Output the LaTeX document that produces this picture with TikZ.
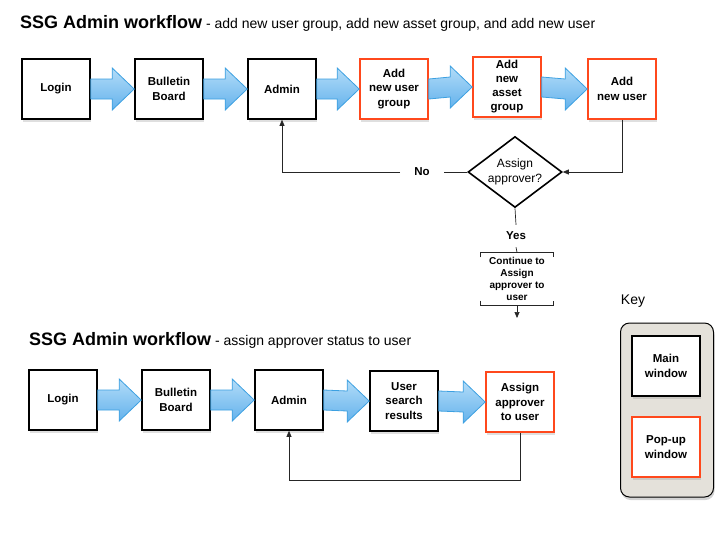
\documentclass[tikz,border=0pt]{standalone}
\usepackage{fontspec}
\setmainfont{Liberation Sans}
\definecolor{popred}{RGB}{255,72,28}
\definecolor{arrowblue}{RGB}{60,160,225}
\definecolor{arrowlight}{RGB}{178,220,248}
\definecolor{arrowdark}{RGB}{100,178,236}
\definecolor{keygray}{RGB}{228,225,218}
\usetikzlibrary{arrows.meta,positioning,shapes.geometric,calc,shadows}

%% block arrow from one window to the next
\newcommand{\flowarrow}[2]{%
  \path[bluearrow] ($(#1.east)+(0,10)$) -- ($(#2.west)+(-22,10)$) -- ($(#2.west)+(-22,21)$)
    -- (#2.west) -- ($(#2.west)+(-22,-21)$) -- ($(#2.west)+(-22,-10)$) -- ($(#1.east)+(0,-10)$) -- cycle;}

\begin{document}
\begin{tikzpicture}[x=1pt, y=-1pt,
  mainwin/.style={draw=black, fill=white, line width=1.6pt, minimum width=68pt, minimum height=60pt, align=center,
    font=\bfseries\fontsize{11.5}{14.5}\selectfont, drop shadow={shadow xshift=1pt, shadow yshift=-2.5pt, opacity=0.25}},
  popwin/.style={mainwin, draw=popred},
  bluearrow/.style={draw=arrowblue, line width=0.8pt, top color=arrowlight, bottom color=arrowdark},
  link/.style={draw=black!85, line width=0.7pt},
  tip/.style={-{Triangle[length=6pt,width=5pt]}},
  lbl/.style={font=\bfseries\fontsize{11.5}{14}\selectfont, inner sep=1pt}]
  \useasboundingbox (0,0) rectangle (722,550);

  %% Titles
  \node[anchor=west, inner sep=0pt] (title1) at (20,23) {{\bfseries\fontsize{18}{20}\selectfont SSG Admin workflow}{\fontsize{14}{16}\selectfont{} - add new user group, add new asset group, and add new user}};
  \node[anchor=west, inner sep=0pt] (title2) at (29,340) {{\bfseries\fontsize{18}{20}\selectfont SSG Admin workflow}{\fontsize{14}{16}\selectfont{} - assign approver status to user}};

  %% Top workflow
  \node[mainwin] (login1) at (56,89)  {Login};
  \node[mainwin] (board1) at (169,89) {Bulletin\\Board};
  \node[mainwin] (admin1) at (282,89) {Admin};
  \node[popwin]  (ugroup) at (394,89) {Add\\new user\\group};
  \node[popwin, inner ysep=2pt, font=\bfseries\fontsize{11.5}{14}\selectfont] (agroup) at (507,87) {Add\\new\\asset\\group};
  \node[popwin]  (nuser)  at (622,89) {Add\\new user};

  \flowarrow{login1}{board1}
  \flowarrow{board1}{admin1}
  \flowarrow{admin1}{ugroup}
  \flowarrow{ugroup}{agroup}
  \flowarrow{agroup}{nuser}

  %% Decision
  \node[draw=black, line width=1.6pt, fill=white, shape=diamond, aspect=1.32, inner sep=0pt, minimum width=94pt, minimum height=71pt,
    align=center, font=\fontsize{12}{15}\selectfont] (assign) at (515,172) {Assign\\approver?};
  \node[lbl, inner xsep=14pt] (no)  at (422,172) {No};
  \node[lbl, inner ysep=7pt] (yes) at (516,236) {Yes};
  \node[align=center, font=\bfseries\fontsize{10}{12}\selectfont, minimum width=72pt, minimum height=53pt, inner sep=0pt] (cont) at (517,279) {Continue to\\Assign\\approver to\\user};
  \coordinate (contend) at (517,318);

  \draw[link, tip] (nuser.south) |- (assign.east);
  \draw[link] (assign.west) -- (no.east);
  \draw[link, tip] (no.west) -| (admin1.south);
  \draw[link] (assign.south) -- (yes.north);
  \draw[link] (yes.south) -- (cont.north);
  \draw[link] ($(cont.north west)+(0,5)$) -- (cont.north west) -- (cont.north east) -- ++(0,5);
  \draw[link] ($(cont.south west)+(0,-5)$) -- (cont.south west) -- (cont.south east) -- ++(0,-5);
  \draw[link, tip] (cont.south) -- (contend);

  %% Bottom workflow
  \node[mainwin] (login2) at (63,400)  {Login};
  \node[mainwin] (board2) at (176,400) {Bulletin\\Board};
  \node[mainwin] (admin2) at (289,400) {Admin};
  \node[mainwin] (search) at (404,401) {User\\search\\results};
  \node[popwin]  (approver) at (520,402) {Assign\\approver\\to user};

  \flowarrow{login2}{board2}
  \flowarrow{board2}{admin2}
  \flowarrow{admin2}{search}
  \flowarrow{search}{approver}

  \draw[link, tip] (approver.south) -- ++(0,48) -| (admin2.south);

  %% Key
  \node[font=\fontsize{14}{16}\selectfont] (keytitle) at (633,301) {Key};
  \node[draw=black, fill=keygray, line width=1pt, rounded corners=9pt, minimum width=93pt, minimum height=174pt,
    drop shadow={shadow xshift=1pt, shadow yshift=-3pt, opacity=0.35}] (keybox) at (667,410) {};
  \node[mainwin, drop shadow={opacity=0}, line width=1.4pt] (keymain) at (666,366) {Main\\window};
  \node[popwin, drop shadow={opacity=0}, line width=1.4pt] (keypop) at (666,447) {Pop-up\\window};
\end{tikzpicture}
\end{document}
